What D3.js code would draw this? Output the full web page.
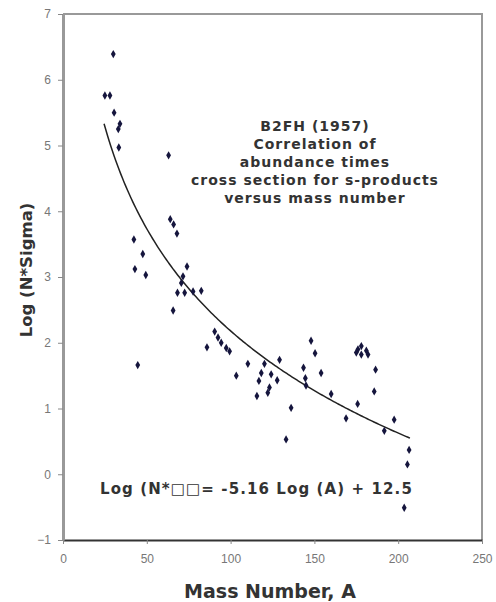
<!DOCTYPE html>
<html>
<head>
<meta charset="utf-8">
<script src="https://cdn.jsdelivr.net/npm/d3@7"></script>
<style>
  body { margin: 0; background: #fff; }
</style>
</head>
<body>
<div id="chart"></div>
<script>
// values
var massNumber = [30, 25, 28, 30.5, 34, 33, 33.3, 63, 64, 66, 68, 42.3, 47.6, 42.9, 49.4, 44.6,
    65.7, 74, 71.6, 70.6, 68.3, 72.6, 77.6, 82.5, 90.5, 92.5, 94.4, 97.4, 99.4, 85.9,
    103.4, 110.3, 120.2, 129.2, 118.3, 116.9, 124.2, 127.8, 123.2, 122.2, 115.7, 136.1, 133.1,
    148, 150.4, 143.5, 154, 144.6, 145, 160, 168.9,
    176, 178, 181, 182, 178, 175, 186.5, 185.7, 175.8, 197.6, 191.7, 206.5, 205.5, 203.6];
var logNSigma = [6.39, 5.76, 5.76, 5.5, 5.33, 5.25, 4.97, 4.85, 3.88, 3.8, 3.66, 3.57, 3.35, 3.12, 3.03, 1.66,
    2.49, 3.16, 3.01, 2.91, 2.76, 2.76, 2.78, 2.79, 2.17, 2.08, 2.0, 1.92, 1.87, 1.93,
    1.5, 1.68, 1.68, 1.74, 1.54, 1.42, 1.52, 1.43, 1.32, 1.24, 1.19, 1.01, 0.53,
    2.03, 1.84, 1.62, 1.54, 1.46, 1.35, 1.22, 0.85,
    1.9, 1.95, 1.88, 1.82, 1.82, 1.85, 1.59, 1.26, 1.07, 0.83, 0.66, 0.37, 0.15, -0.51];

var xTicks = [0, 50, 100, 150, 200, 250];
var yTicks = [-1, 0, 1, 2, 3, 4, 5, 6, 7];

// trend line as printed on the chart: Log(N*sigma) = -5.16 Log(A) + 12.5
var fitSlope = -5.16, fitIntercept = 12.5;
var fitRange = [24.5, 207];

var noteLines = ["B2FH (1957)", "Correlation of", "abundance times",
    "cross section for s-products", "versus mass number"];
var equationText = "Log (N*\u25A1\u25A1= -5.16 Log (A) + 12.5";

var width = 496, height = 602;
var plot = {left: 63, right: 482, top: 14, bottom: 540};

var svg = d3.select("#chart").append("svg")
    .attr("width", width)
    .attr("height", height)
    .style("font-family", "'DejaVu Sans', Verdana, sans-serif");

var x = d3.scaleLinear().domain([0, 250]).range([plot.left, plot.right]);
var y = d3.scaleLinear().domain([-1, 7]).range([plot.bottom, plot.top]);

// frame: top and right borders in light grey
svg.append("path")
    .attr("d", "M" + plot.left + "," + plot.top + "H" + plot.right + "V" + plot.bottom)
    .attr("fill", "none")
    .attr("stroke", "#999")
    .attr("stroke-width", 2);

var xAxis = svg.append("g")
    .attr("transform", "translate(0," + plot.bottom + ")")
    .call(d3.axisBottom(x).tickValues(xTicks).tickSize(4).tickSizeOuter(0));
xAxis.select(".domain").attr("stroke", "#333").attr("stroke-width", 2);
xAxis.selectAll(".tick line").attr("stroke", "#888");
xAxis.selectAll("text")
    .attr("dy", "1.3em")
    .style("font-size", "12px")
    .style("fill", "#777");

var yAxis = svg.append("g")
    .attr("transform", "translate(" + plot.left + ",0)")
    .call(d3.axisLeft(y).tickValues(yTicks).tickSize(5).tickSizeOuter(0));
yAxis.select(".domain").attr("stroke", "#999").attr("stroke-width", 3);
yAxis.selectAll(".tick line").attr("stroke", "#888");
yAxis.selectAll("text")
    .attr("x", -12)
    .style("font-size", "12px")
    .style("fill", "#777");

// fit curve
var fitX = d3.range(fitRange[0], fitRange[1], 1).concat([fitRange[1]]);
var line = d3.line()
    .x(function(a) { return x(a); })
    .y(function(a) { return y(fitSlope * Math.log10(a) + fitIntercept); });
svg.append("path")
    .datum(fitX)
    .attr("d", line)
    .attr("fill", "none")
    .attr("stroke", "#222")
    .attr("stroke-width", 1.5);

// data points
var symbol = d3.symbol().type(d3.symbolDiamond).size(20);
svg.append("g").selectAll("path")
    .data(massNumber)
    .enter().append("path")
    .attr("d", symbol)
    .attr("transform", function(d, i) { return "translate(" + x(d) + "," + y(logNSigma[i]) + ")"; })
    .attr("fill", "#15153d");

// annotation
var note = svg.append("text")
    .attr("text-anchor", "middle")
    .style("font-size", "14px")
    .style("font-weight", "bold")
    .style("letter-spacing", "1px")
    .style("fill", "#333");
note.selectAll("tspan")
    .data(noteLines)
    .enter().append("tspan")
    .attr("x", 315)
    .attr("y", function(d, i) { return 131 + i * 18; })
    .text(function(d) { return d; });

svg.append("text")
    .attr("x", 100)
    .attr("y", 494)
    .style("font-size", "15px")
    .style("font-weight", "bold")
    .style("letter-spacing", "1.1px")
    .style("fill", "#333")
    .text(equationText);

// axis titles
svg.append("text")
    .attr("x", 270)
    .attr("y", 598)
    .attr("text-anchor", "middle")
    .style("font-size", "19px")
    .style("font-weight", "bold")
    .style("fill", "#333")
    .text("Mass Number, A");

svg.append("text")
    .attr("transform", "translate(32,270) rotate(-90)")
    .attr("text-anchor", "middle")
    .style("font-size", "16.5px")
    .style("font-weight", "bold")
    .style("fill", "#333")
    .text("Log (N*Sigma)");
</script>
</body>
</html>
